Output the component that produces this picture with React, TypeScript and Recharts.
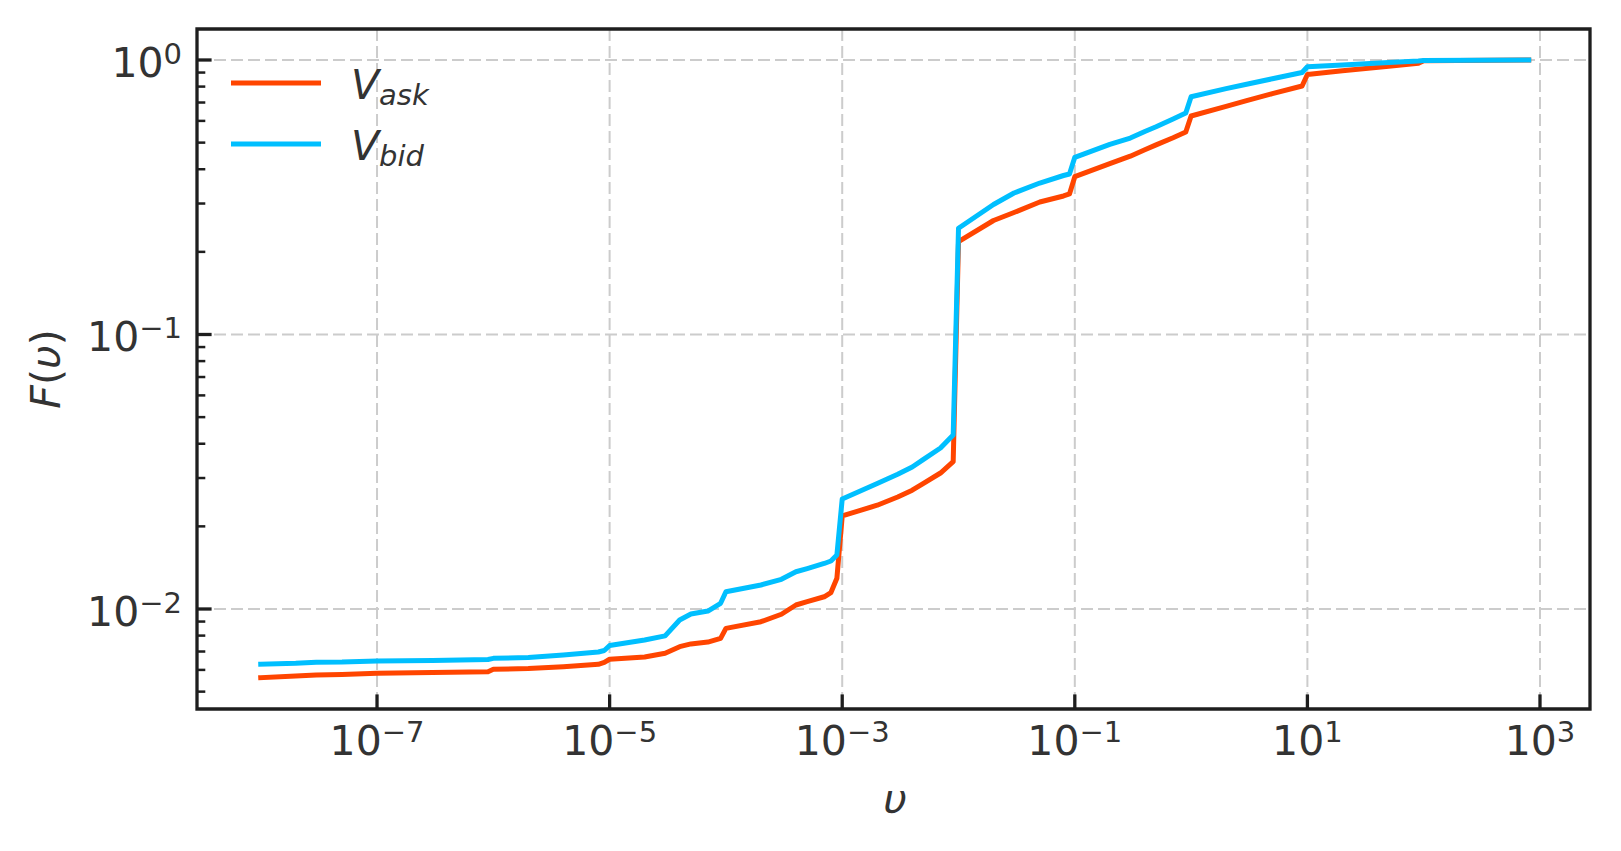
import React from 'react';
import { LineChart, Line, XAxis, YAxis, CartesianGrid, ReferenceArea } from 'recharts';

// velocity grid (log spaced, only the visible vertices)
const upsilon = [
  1e-8, 2e-8, 3e-8, 5e-8, 1e-7, 3e-7, 9e-7, 1e-6, 2e-6, 4e-6, 8e-6, 9e-6,
  1e-5, 2e-5, 3e-5, 4e-5, 5e-5, 7e-5, 9e-5, 1e-4, 2e-4, 3e-4, 4e-4, 5e-4,
  7e-4, 8e-4, 9e-4, 1e-3, 2e-3, 3e-3, 4e-3, 5e-3, 7e-3, 9e-3, 1e-2, 2e-2,
  3e-2, 5e-2, 8e-2, 9e-2, 1e-1, 2e-1, 3e-1, 4e-1, 5e-1, 7e-1, 9e-1, 1, 2,
  3, 5, 9, 10, 20, 50, 90, 100, 800,
];

const askCdf = [
  0.00562, 0.0057, 0.00575, 0.00577, 0.00583, 0.00587, 0.00591, 0.00603, 0.00607, 0.00616, 0.00629, 0.00639,
  0.00656, 0.00669, 0.0069, 0.00729, 0.00746, 0.00758, 0.00782, 0.0085, 0.00899, 0.00957, 0.01034, 0.01063,
  0.01108, 0.01148, 0.01294, 0.02182, 0.02388, 0.02559, 0.02709, 0.02871, 0.03129, 0.0344, 0.2178, 0.2602,
  0.2782, 0.3039, 0.3196, 0.325, 0.3757, 0.4193, 0.4462, 0.4709, 0.4907, 0.5211, 0.5466, 0.6252, 0.6772,
  0.7109, 0.7541, 0.8042, 0.8855, 0.9135, 0.9493, 0.9727, 0.9942, 1.0,
];

const bidCdf = [
  0.00629, 0.00634, 0.0064, 0.00641, 0.00647, 0.00649, 0.00655, 0.00661, 0.00666, 0.0068, 0.00697, 0.00706,
  0.00736, 0.00771, 0.00798, 0.00912, 0.00959, 0.00983, 0.01049, 0.01156, 0.01223, 0.01283, 0.01367, 0.01404,
  0.01465, 0.01496, 0.01573, 0.02516, 0.02866, 0.03095, 0.03291, 0.0351, 0.0386, 0.04304, 0.2437, 0.2976,
  0.3277, 0.3563, 0.3795, 0.3843, 0.4419, 0.4926, 0.5197, 0.5489, 0.571, 0.6095, 0.6409, 0.7349, 0.7861,
  0.8155, 0.8542, 0.9006, 0.9454, 0.959, 0.9793, 0.9916, 0.9958, 1.0,
];

const xTicks = [1e-7, 1e-5, 1e-3, 1e-1, 1e1, 1e3];
const xTickExps = ['\u22127', '\u22125', '\u22123', '\u22121', '1', '3'];
const yMajor = [1e-2, 1e-1, 1];
const yMajorExps = ['\u22122', '\u22121', '0'];
const yMinor = [
  5e-3, 6e-3, 7e-3, 8e-3, 9e-3,
  2e-2, 3e-2, 4e-2, 5e-2, 6e-2, 7e-2, 8e-2, 9e-2,
  2e-1, 3e-1, 4e-1, 5e-1, 6e-1, 7e-1, 8e-1, 9e-1,
];

const data = upsilon.map((v, i) => ({ v, ask: askCdf[i], bid: bidCdf[i] }));

const X_DOMAIN: [number, number] = [Math.pow(10, -8.548), Math.pow(10, 3.43)];
const Y_DOMAIN: [number, number] = [Math.pow(10, -2.3643), Math.pow(10, 0.1129)];

const FONT = "'DejaVu Sans', sans-serif";
const TXT = '#333333';
const INK = '#1e1e1e';
const ASK = '#FF4500';
const BID = '#00BFFF';
const LW = 5;

const XTick = (props: any) => {
  const { x, y, payload } = props;
  const i = xTicks.indexOf(payload.value);
  return (
    <g>
      <line x1={x} x2={x} y1={y} y2={y - 14.6} stroke={INK} strokeWidth={3.3} />
      <text x={x} y={y + 46} textAnchor="middle" fontSize={41} fill={TXT} fontFamily={FONT}>
        10
        <tspan dy={-13} fontSize={29}>
          {xTickExps[i]}
        </tspan>
      </text>
    </g>
  );
};

const YTick = (props: any) => {
  const { x, y, payload } = props;
  const i = yMajor.indexOf(payload.value);
  if (i < 0) {
    return <line x1={x} x2={x + 8.3} y1={y} y2={y} stroke={INK} strokeWidth={2.5} />;
  }
  return (
    <g>
      <line x1={x} x2={x + 14.6} y1={y} y2={y} stroke={INK} strokeWidth={3.3} />
      <text x={x - 15} y={y + 17} textAnchor="end" fontSize={41} fill={TXT} fontFamily={FONT}>
        10
        <tspan dy={-13} fontSize={29}>
          {yMajorExps[i]}
        </tspan>
      </text>
    </g>
  );
};

export default function App() {
  return (
    <div style={{ position: 'absolute', left: 0, top: 0, width: 1621, height: 851, background: '#fff' }}>
      <LineChart width={1621} height={851} data={data} margin={{ top: 29, right: 31, bottom: 0, left: 0 }}>
        <CartesianGrid
          stroke="#cccccc"
          strokeWidth={2}
          strokeDasharray="12 5"
          horizontalValues={yMajor}
          verticalValues={xTicks}
        />
        <XAxis
          dataKey="v"
          type="number"
          scale="log"
          domain={X_DOMAIN}
          allowDataOverflow
          ticks={xTicks}
          interval={0}
          height={142}
          axisLine={false}
          tickLine={false}
          tickSize={0}
          tickMargin={0}
          tick={<XTick />}
        />
        <YAxis
          type="number"
          scale="log"
          domain={Y_DOMAIN}
          allowDataOverflow
          ticks={[...yMajor, ...yMinor]}
          interval={0}
          width={197}
          axisLine={false}
          tickLine={false}
          tickSize={0}
          tickMargin={0}
          tick={<YTick />}
        />
        <Line
          type="linear"
          dataKey="ask"
          stroke={ASK}
          strokeWidth={LW}
          strokeLinejoin="round"
          strokeLinecap="square"
          dot={false}
          activeDot={false}
          isAnimationActive={false}
        />
        <Line
          type="linear"
          dataKey="bid"
          stroke={BID}
          strokeWidth={LW}
          strokeLinejoin="round"
          strokeLinecap="square"
          dot={false}
          activeDot={false}
          isAnimationActive={false}
        />
        <ReferenceArea
          x1={X_DOMAIN[0]}
          x2={X_DOMAIN[1]}
          y1={Y_DOMAIN[0]}
          y2={Y_DOMAIN[1]}
          fill="none"
          fillOpacity={0}
          stroke={INK}
          strokeWidth={3.3}
          ifOverflow="visible"
        />
      </LineChart>
      <svg
        width={1621}
        height={851}
        style={{ position: 'absolute', left: 0, top: 0, pointerEvents: 'none' }}
        fontFamily={FONT}
      >
        {/* legend */}
        <line x1={231} x2={321} y1={83} y2={83} stroke={ASK} strokeWidth={LW} />
        <text x={351} y={99} fontSize={41} fontStyle="italic" fill={TXT}>
          V
          <tspan dy={6} fontSize={29}>
            ask
          </tspan>
        </text>
        <line x1={231} x2={321} y1={144} y2={144} stroke={BID} strokeWidth={LW} />
        <text x={351} y={160} fontSize={41} fontStyle="italic" fill={TXT}>
          V
          <tspan dy={6} fontSize={29}>
            bid
          </tspan>
        </text>
        {/* axis labels */}
        <text x={895} y={813} textAnchor="middle" fontSize={41} fontStyle="italic" fill={TXT}>
          υ
        </text>
        <text
          x={60}
          y={369}
          textAnchor="middle"
          fontSize={41}
          fill={TXT}
          transform="rotate(-90 60 369)"
        >
          <tspan fontStyle="italic">F</tspan>
          <tspan>(</tspan>
          <tspan fontStyle="italic">υ</tspan>
          <tspan>)</tspan>
        </text>
      </svg>
    </div>
  );
}
